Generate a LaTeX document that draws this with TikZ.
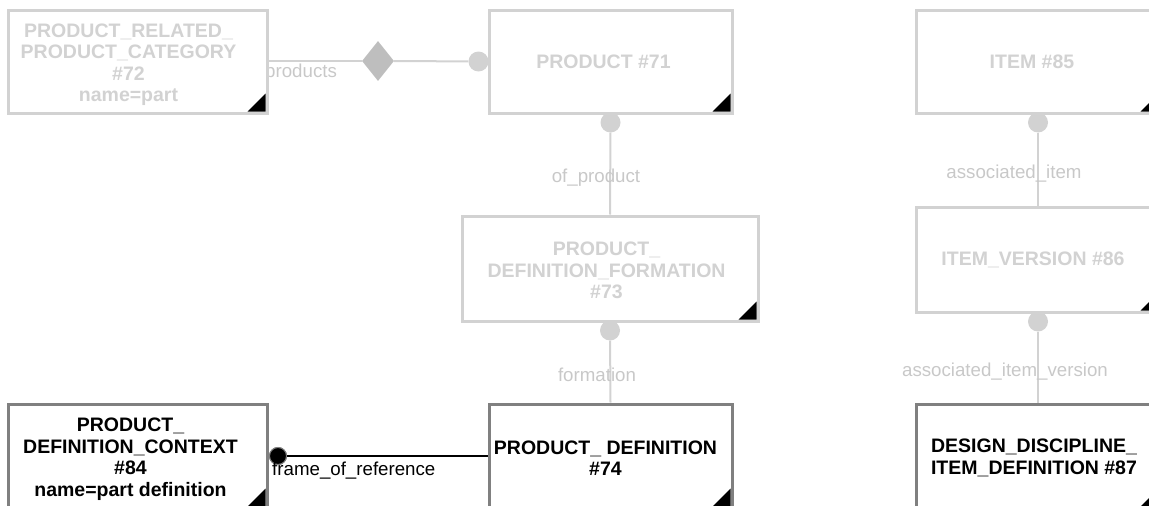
\documentclass[tikz,border=0pt]{standalone}
\usepackage{fontspec}
\setmainfont{Liberation Sans}
\usetikzlibrary{shapes.geometric}
\definecolor{lightg}{RGB}{210,210,210}
\definecolor{labelg}{RGB}{200,200,200}
\definecolor{diamg}{RGB}{190,190,190}
\definecolor{darkg}{RGB}{128,128,128}
\pgfdeclarelayer{bg}
\pgfsetlayers{bg,main}
\begin{document}
\begin{tikzpicture}[x=1pt,y=-1pt,
  box/.style={draw, rectangle, fill=white, line width=3pt, inner sep=0pt,
    path picture={\fill[black] ([shift={(-1.5pt,1.5pt)}]path picture bounding box.south east) -- ++(0,18pt) -- ++(-18pt,-18pt) -- cycle;}},
  faded/.style={box, draw=lightg},
  active/.style={box, draw=darkg},
  title/.style={inner sep=0pt, align=center, font=\fontsize{19.5}{21.5}\selectfont\bfseries},
  fadedtitle/.style={title, text=lightg},
  activetitle/.style={title, text=black},
  conn/.style={draw=lightg, line width=2pt},
  blackconn/.style={draw=black, line width=2pt},
  dot/.style={circle, fill=lightg, minimum size=20pt, inner sep=0pt},
  blackdot/.style={circle, fill=black, draw=darkg, line width=1pt, minimum size=17pt, inner sep=0pt},
  dia/.style={diamond, fill=diamg, minimum width=32pt, minimum height=40pt, inner sep=0pt},
  elabel/.style={font=\fontsize{18.7}{22}\selectfont, text=labelg, inner sep=0pt},
  blabel/.style={font=\fontsize{18.7}{22}\selectfont, text=black, inner sep=0pt}
]
\useasboundingbox (0,0) rectangle (1149,506);

% entity boxes
\node[faded, minimum width=259pt, minimum height=103pt] (b72) at (137.5,61.5) {};
\node[faded, minimum width=243pt, minimum height=103pt] (b71) at (610.5,61.5) {};
\node[faded, minimum width=244pt, minimum height=103pt] (b85) at (1038,61.5) {};
\node[faded, minimum width=296pt, minimum height=105pt] (b73) at (610,268.5) {};
\node[faded, minimum width=244pt, minimum height=105pt] (b86) at (1038,259.5) {};
\node[active, minimum width=259pt, minimum height=104pt] (b84) at (137.5,456) {};
\node[active, minimum width=243pt, minimum height=104pt] (b74) at (610.5,456) {};
\node[active, minimum width=244pt, minimum height=104pt] (b87) at (1038,456) {};

% entity titles
\node[fadedtitle] (t72) at ([shift={(-9pt,-3pt)}]b72.center) {PRODUCT\_RELATED\_\\PRODUCT\_CATEGORY\\\#72\\name=part};
\node[fadedtitle] (t71) at ([shift={(-7pt,0pt)}]b71.center) {PRODUCT \#71};
\node[fadedtitle] (t85) at ([shift={(-6pt,0pt)}]b85.center) {ITEM \#85};
\node[fadedtitle] (t73) at ([shift={(-3.5pt,-2pt)}]b73.center) {PRODUCT\_\\DEFINITION\_FORMATION\\\#73};
\node[fadedtitle] (t86) at ([shift={(-5pt,0pt)}]b86.center) {ITEM\_VERSION \#86};
\node[activetitle] (t84) at ([shift={(-7pt,-3pt)}]b84.center) {PRODUCT\_\\DEFINITION\_CONTEXT\\\#84\\name=part definition};
\node[activetitle] (t74) at ([shift={(-5pt,-2pt)}]b74.center) {PRODUCT\_ DEFINITION\\\#74};
\node[activetitle] (t87) at ([shift={(-4pt,-2pt)}]b87.center) {DESIGN\_DISCIPLINE\_\\ITEM\_DEFINITION \#87};

\begin{pgfonlayer}{bg}
  % end markers
  \node[dia] (d72) at (378,61) {};
  \node[dot] (c71w) at ([xshift=-9pt]b71.west) {};
  \node[dot] (c71s) at ([yshift=-8pt]b71.south) {};
  \node[dot] (c73s) at ([yshift=-8pt]b73.south) {};
  \node[dot] (c85s) at ([yshift=-8pt]b85.south) {};
  \node[dot] (c86s) at ([yshift=-8pt]b86.south) {};
  % connectors
  \draw[conn] (b72.east |- d72) -- (d72.west);
  \draw[conn] (d72.east) -- (c71w);
  \draw[conn] (c71s) -- (b73.north);
  \draw[conn] (c73s) -- (b74.north);
  \draw[conn] (c85s) -- (b86.north);
  \draw[conn] (c86s) -- (b87.north);
  % labels
  \node[elabel, anchor=base west] (lprod) at (265,77) {products};
  \node[elabel, anchor=base] (lofp) at (596,182) {of\_product};
  \node[elabel, anchor=base] (lform) at (597,381) {formation};
  \node[elabel, anchor=base] (lai) at (1014,178) {associated\_item};
  \node[elabel, anchor=base] (laiv) at (1005,376) {associated\_item\_version};
\end{pgfonlayer}
% frame_of_reference
\node[blackdot] (fdot) at ([xshift=9.5pt]b84.east) {};
\draw[blackconn] (fdot) -- (fdot -| b74.west);
\node[blackdot] at (fdot) {};
\node[blabel, anchor=base west] (lfor) at (272,475) {frame\_of\_reference};
\end{tikzpicture}
\end{document}
